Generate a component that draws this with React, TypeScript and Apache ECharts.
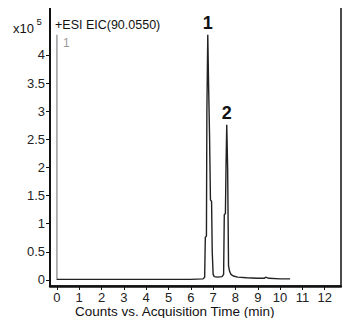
import React, { useEffect, useRef } from "react";
import * as echarts from "echarts";

// Trace: time (min), intensity (x10^5 counts)
const traceTime = [0, 1, 2, 3, 4, 5, 6, 6.55, 6.62, 6.65, 6.7, 6.72, 6.76, 6.8, 6.84, 6.88, 6.93, 6.96, 7.0, 7.05, 7.2, 7.4, 7.47, 7.5, 7.55, 7.58, 7.61, 7.65, 7.69, 7.74, 7.8, 7.9, 8.1, 8.5, 9.0, 9.3, 9.35, 9.5, 10.0, 10.45];
const traceIntensity = [0.01, 0.01, 0.01, 0.01, 0.01, 0.01, 0.01, 0.02, 0.05, 0.76, 0.78, 3.0, 4.36, 3.4, 2.55, 1.42, 1.4, 0.5, 0.1, 0.06, 0.05, 0.06, 0.1, 1.16, 1.18, 2.08, 2.76, 2.0, 0.25, 0.15, 0.1, 0.07, 0.05, 0.04, 0.03, 0.03, 0.05, 0.03, 0.02, 0.02];

const peakTimes = [6.76, 7.61];
const peakHeights = [4.36, 2.76];
const peakLabels = ["1", "2"];

const markerTime = [0, 0];
const markerIntensity = [0, 4.36];
const markerLabel = "1";

const xTicks = [0, 1, 2, 3, 4, 5, 6, 7, 8, 9, 10, 11, 12];
const yTicks = [0, 0.5, 1, 1.5, 2, 2.5, 3, 3.5, 4];

const titleText = "+ESI EIC(90.0550)";
const xAxisTitle = "Counts vs. Acquisition Time (min)";

export default function App() {
  const ref = useRef<HTMLDivElement>(null);
  useEffect(() => {
    if (!ref.current) return;
    const chart = echarts.init(ref.current, undefined, { renderer: "svg" });
    const font = "'Liberation Sans', Arial, sans-serif";
    chart.setOption({
      animation: false,
      backgroundColor: "#ffffff",
      title: [
        {
          text: titleText,
          left: 50,
          top: 13,
          textStyle: { fontFamily: font, fontSize: 12.5, fontWeight: "normal", color: "#111" },
        },
        {
          text: "{a|x10}{b| 5}",
          left: 8,
          top: 11,
          textStyle: {
            fontWeight: "normal",
            rich: {
              a: { fontFamily: font, fontSize: 13, fontWeight: "normal", color: "#111", verticalAlign: "bottom", padding: [6, 0, 0, 0] },
              b: { fontFamily: font, fontSize: 9.5, fontWeight: "normal", color: "#111", verticalAlign: "top" },
            },
          },
        },
        {
          text: xAxisTitle,
          left: 70,
          top: 299,
          textStyle: { fontFamily: font, fontSize: 13.5, lineHeight: 14, fontWeight: "normal", color: "#111" },
        },
      ],
      grid: {
        left: 50,
        top: 6,
        width: 291,
        height: 280,
        show: true,
        borderColor: "#111",
        borderWidth: 1.5,
        backgroundColor: "#ffffff",
      },
      xAxis: {
        type: "value",
        min: -0.31,
        max: 12.73,
        axisLine: { show: true, onZero: false, lineStyle: { color: "#111", width: 2.5 } },
        axisTick: { show: true, length: 4, customValues: xTicks, lineStyle: { color: "#111" } },
        axisLabel: {
          customValues: xTicks,
          margin: 5,
          fontFamily: font,
          fontSize: 13,
          lineHeight: 13,
          color: "#222",
        },
        splitLine: { show: false },
      },
      yAxis: {
        type: "value",
        min: -0.107,
        max: 4.871,
        axisLine: { show: true, onZero: false, lineStyle: { color: "#111", width: 2 } },
        axisTick: { show: true, length: 4, customValues: yTicks, lineStyle: { color: "#111" } },
        axisLabel: {
          customValues: yTicks,
          margin: 5,
          fontFamily: font,
          fontSize: 13,
          color: "#222",
        },
        splitLine: { show: false },
      },
      series: [
        {
          type: "line",
          data: markerTime.map((t, i) => [t, markerIntensity[i]]),
          symbol: "none",
          lineStyle: { color: "#9a9a9a", width: 1.5 },
          label: { show: false },
          endLabel: {
            show: true,
            formatter: markerLabel,
            color: "#9a9a9a",
            fontFamily: font,
            fontSize: 12,
            offset: [-2, 8],
          },
          silent: true,
        },
        {
          type: "line",
          data: traceTime.map((t, i) => [t, traceIntensity[i]]),
          symbol: "none",
          lineStyle: { color: "#222", width: 1.4 },
          markPoint: {
            symbol: "circle",
            symbolSize: 0,
            data: peakTimes.map((t, i) => ({
              coord: [t, peakHeights[i]],
              value: peakLabels[i],
            })),
            label: {
              show: true,
              position: "top",
              distance: 3,
              formatter: (p: any) => p.value,
              fontFamily: font,
              fontSize: 18,
              fontWeight: "bold",
              color: "#111",
            },
          },
        },
      ],
    });
    return () => chart.dispose();
  }, []);
  return <div ref={ref} style={{ width: 350, height: 326, margin: -8 }} />;
}
